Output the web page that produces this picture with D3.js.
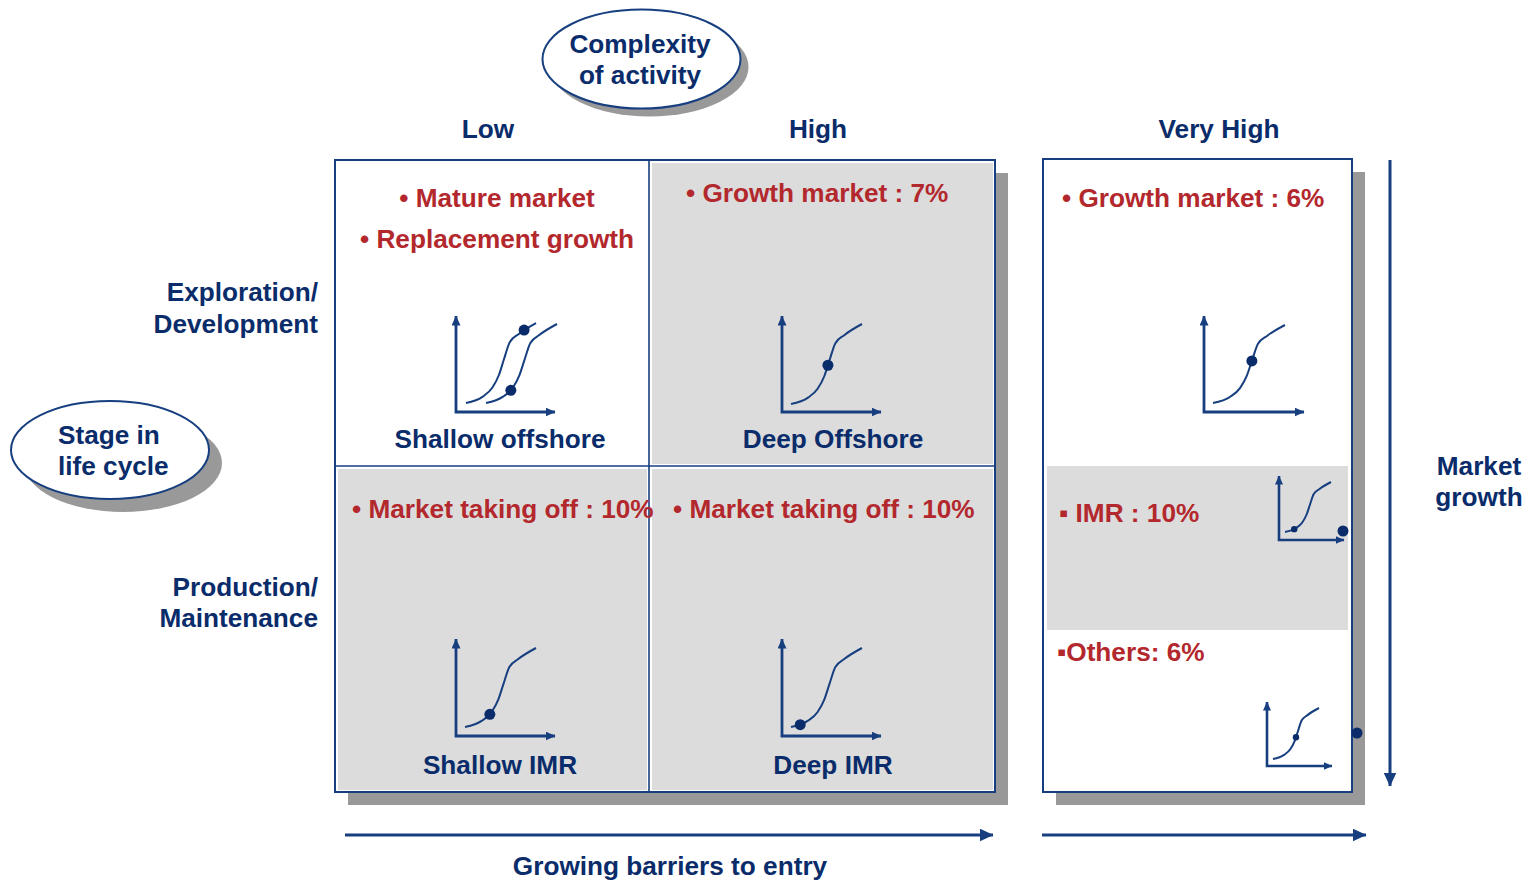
<!DOCTYPE html>
<html>
<head>
<meta charset="utf-8">
<script src="https://cdn.jsdelivr.net/npm/d3@7"></script>
<style>
  html, body { margin: 0; padding: 0; background: #ffffff; }
  svg { display: block; }
  text { font-family: "Liberation Sans", Arial, sans-serif; font-weight: bold; }
</style>
</head>
<body>
<svg id="chart" width="1539" height="880"></svg>
<script>
// ---- content ----
const complexityLevels = ["Low", "High", "Very High"];
const stageLabels = [["Exploration/", "Development"], ["Production/", "Maintenance"]];
const segmentNames = ["Shallow offshore", "Deep Offshore", "Shallow IMR", "Deep IMR"];
const segmentNotes = [
  ["• Mature market", "• Replacement growth"],
  ["• Growth market : 7%"],
  ["• Market taking off : 10%"],
  ["• Market taking off : 10%"]
];
const veryHighNotes = ["• Growth market : 6%", "▪ IMR : 10%", "▪Others: 6%"];
// position of each segment on its life-cycle curve (0 = start, 1 = end)
const lifeCyclePosition = [[0.83, 0.35], [0.52], [0.35], [0.13]];
const veryHighPosition = [0.54, 0.2, 0.5];
// generic S-shaped life cycle curve (normalised)
const sCurveX = [0, 0.24, 0.375, 0.47, 0.54, 0.625, 0.75, 1];
const sCurveY = [0, 0.08, 0.19, 0.35, 0.54, 0.76, 0.86, 1];

// ---- style ----
const NAVY = "#0a2c6a";
const LINE = "#173f80";
const RED = "#b3282d";
const GREY = "#dcdcdc";
const SHADOW = "#999999";
const FS = 26.2;

const svg = d3.select("#chart");
const defs = svg.append("defs");
function marker(id, len, wid) {
  defs.append("marker").attr("id", id)
    .attr("viewBox", `0 0 ${len} ${wid}`).attr("refX", len - 0.5).attr("refY", wid / 2)
    .attr("markerWidth", len).attr("markerHeight", wid).attr("markerUnits", "userSpaceOnUse")
    .attr("orient", "auto-start-reverse")
    .append("path").attr("d", `M0,0 L${len},${wid / 2} L0,${wid} Z`).attr("fill", LINE);
}
marker("bigArrow", 14, 13);
marker("miniArrow", 10, 9);
marker("tinyArrow", 9, 8);

function label(x, y, lines, opts = {}) {
  const t = svg.append("text")
    .attr("x", x).attr("y", y)
    .attr("fill", opts.fill || NAVY)
    .attr("font-size", opts.size || FS)
    .attr("text-anchor", opts.anchor || "middle");
  lines.forEach((s, i) => {
    t.append("tspan").attr("x", x).attr("y", y + i * (opts.lh || 31)).attr("dy", "0.35em").text(s);
  });
  return t;
}

// ---- ellipses ----
function bubble(cx, cy, rx, ry, off, lines, anchor, tx) {
  svg.append("ellipse").attr("cx", cx + off).attr("cy", cy + off).attr("rx", rx).attr("ry", ry).attr("fill", SHADOW);
  svg.append("ellipse").attr("cx", cx).attr("cy", cy).attr("rx", rx).attr("ry", ry)
    .attr("fill", "#fff").attr("stroke", LINE).attr("stroke-width", 2);
  label(tx, cy - 15, lines, { anchor, lh: 31 });
}
bubble(641.5, 59, 99, 49.5, 8, ["Complexity", "of activity"], "middle", 640);
bubble(110, 450, 99, 49, 13, ["Stage in", "life cycle"], "start", 58);

// ---- matrix layout ----
const L = { x0: 335, xm: 649, x1: 995, y0: 160, ym: 466, y1: 792 };
const R = { x0: 1043, x1: 1352, y0: 159, y1: 792, gy0: 466, gy1: 630 };
const SH = 13;

// shadows
svg.append("rect").attr("x", L.x0 + SH).attr("y", L.y0 + SH).attr("width", L.x1 - L.x0).attr("height", L.y1 - L.y0).attr("fill", SHADOW);
svg.append("rect").attr("x", R.x0 + SH).attr("y", R.y0 + SH).attr("width", R.x1 - R.x0).attr("height", R.y1 - R.y0).attr("fill", SHADOW);

// cells
const cells = [
  { x: L.x0, y: L.y0, w: L.xm - L.x0, h: L.ym - L.y0, grey: false },
  { x: L.xm, y: L.y0, w: L.x1 - L.xm, h: L.ym - L.y0, grey: true },
  { x: L.x0, y: L.ym, w: L.xm - L.x0, h: L.y1 - L.ym, grey: true },
  { x: L.xm, y: L.ym, w: L.x1 - L.xm, h: L.y1 - L.ym, grey: true }
];
svg.append("rect").attr("x", L.x0).attr("y", L.y0).attr("width", L.x1 - L.x0).attr("height", L.y1 - L.y0).attr("fill", "#fff");
cells.forEach(c => {
  if (c.grey) svg.append("rect").attr("x", c.x + 3).attr("y", c.y + 3).attr("width", c.w - 5).attr("height", c.h - 5).attr("fill", GREY);
});
svg.append("rect").attr("x", L.x0).attr("y", L.y0).attr("width", L.x1 - L.x0).attr("height", L.y1 - L.y0)
  .attr("fill", "none").attr("stroke", LINE).attr("stroke-width", 2);
svg.append("line").attr("x1", L.xm).attr("x2", L.xm).attr("y1", L.y0).attr("y2", L.y1).attr("stroke", LINE).attr("stroke-width", 1.6);
svg.append("line").attr("x1", L.x0).attr("x2", L.x1).attr("y1", L.ym).attr("y2", L.ym).attr("stroke", LINE).attr("stroke-width", 1.6);

svg.append("rect").attr("x", R.x0).attr("y", R.y0).attr("width", R.x1 - R.x0).attr("height", R.y1 - R.y0).attr("fill", "#fff");
svg.append("rect").attr("x", R.x0 + 4).attr("y", R.gy0).attr("width", R.x1 - R.x0 - 8).attr("height", R.gy1 - R.gy0).attr("fill", GREY);
svg.append("rect").attr("x", R.x0).attr("y", R.y0).attr("width", R.x1 - R.x0).attr("height", R.y1 - R.y0)
  .attr("fill", "none").attr("stroke", LINE).attr("stroke-width", 2);

// ---- headers ----
const headerX = [488, 818, 1219];
complexityLevels.forEach((s, i) => label(headerX[i], 129, [s]));
label(318, 292, stageLabels[0], { anchor: "end", lh: 32 });
label(318, 587, stageLabels[1], { anchor: "end", lh: 31 });
label(1479, 466, ["Market", "growth"], { lh: 31 });
label(670, 866, ["Growing barriers to entry"]);

// ---- notes ----
label(497, 198, [segmentNotes[0][0]], { fill: RED });
label(497, 239, [segmentNotes[0][1]], { fill: RED });
label(686, 193, segmentNotes[1], { fill: RED, anchor: "start" });
label(352, 509, segmentNotes[2], { fill: RED, anchor: "start" });
label(673, 509, segmentNotes[3], { fill: RED, anchor: "start" });
label(1062, 198, [veryHighNotes[0]], { fill: RED, anchor: "start" });
label(1059, 513, [veryHighNotes[1]], { fill: RED, anchor: "start" });
label(1057, 652, [veryHighNotes[2]], { fill: RED, anchor: "start" });

// ---- segment names ----
const nameX = [500, 833, 500, 833];
const nameY = [439, 439, 765, 765];
segmentNames.forEach((s, i) => label(nameX[i], nameY[i], [s]));

// ---- life cycle mini charts ----
const curvePts = sCurveX.map((x, i) => [x, sCurveY[i]]);
function miniChart(o) {
  const g = svg.append("g");
  g.append("path")
    .attr("d", `M${o.ox},${o.oy - o.h} L${o.ox},${o.oy} L${o.ox + o.w},${o.oy}`)
    .attr("fill", "none").attr("stroke", LINE).attr("stroke-width", o.small ? 2.6 : 2.8)
    .attr("marker-start", o.small ? "url(#tinyArrow)" : "url(#miniArrow)")
    .attr("marker-end", o.small ? "url(#tinyArrow)" : "url(#miniArrow)");
  o.curves.forEach(c => {
    const xs = d3.scaleLinear().domain([0, 1]).range([c.x0, c.x1]);
    const ys = d3.scaleLinear().domain([0, 1]).range([c.y0, c.y1]);
    const line = d3.line().x(d => xs(d[0])).y(d => ys(d[1])).curve(d3.curveMonotoneX);
    const p = g.append("path").attr("d", line(curvePts))
      .attr("fill", "none").attr("stroke", LINE).attr("stroke-width", 2);
    // locate the dot on the drawn curve at the requested horizontal position
    const node = p.node();
    const total = node.getTotalLength();
    const tx = xs(c.pos);
    let lo = 0, hi = total;
    for (let k = 0; k < 30; k++) {
      const mid = (lo + hi) / 2;
      if (node.getPointAtLength(mid).x < tx) lo = mid; else hi = mid;
    }
    const pt = node.getPointAtLength((lo + hi) / 2);
    g.append("circle").attr("cx", pt.x).attr("cy", pt.y).attr("r", c.r).attr("fill", NAVY);
  });
}
miniChart({ ox: 456, oy: 412, h: 96, w: 99, curves: [
  { x0: 466, x1: 536, y0: 403, y1: 323, pos: lifeCyclePosition[0][0], r: 5.5 },
  { x0: 486, x1: 557, y0: 403, y1: 324, pos: lifeCyclePosition[0][1], r: 5.5 }] });
miniChart({ ox: 782, oy: 412, h: 96, w: 99, curves: [
  { x0: 791, x1: 862, y0: 404, y1: 324, pos: lifeCyclePosition[1][0], r: 5.5 }] });
miniChart({ ox: 456, oy: 736, h: 97, w: 99, curves: [
  { x0: 465, x1: 536, y0: 727, y1: 648, pos: lifeCyclePosition[2][0], r: 5.5 }] });
miniChart({ ox: 782, oy: 736, h: 97, w: 99, curves: [
  { x0: 791, x1: 862, y0: 727, y1: 648, pos: lifeCyclePosition[3][0], r: 5.5 }] });
miniChart({ ox: 1204, oy: 412, h: 96, w: 100, curves: [
  { x0: 1213, x1: 1285, y0: 403, y1: 325, pos: veryHighPosition[0], r: 5.5 }] });
miniChart({ ox: 1279, oy: 540, h: 64, w: 65, small: true, curves: [
  { x0: 1285, x1: 1331, y0: 532, y1: 482, pos: veryHighPosition[1], r: 3.2 }] });
miniChart({ ox: 1267, oy: 766, h: 64, w: 65, small: true, curves: [
  { x0: 1273, x1: 1319, y0: 759, y1: 708, pos: veryHighPosition[2], r: 3.2 }] });
svg.append("circle").attr("cx", 1343).attr("cy", 531).attr("r", 5.5).attr("fill", NAVY);
svg.append("circle").attr("cx", 1357).attr("cy", 733).attr("r", 5.5).attr("fill", NAVY);

// ---- axis arrows ----
function arrow(x1, y1, x2, y2) {
  svg.append("line").attr("x1", x1).attr("y1", y1).attr("x2", x2).attr("y2", y2)
    .attr("stroke", LINE).attr("stroke-width", 3).attr("marker-end", "url(#bigArrow)");
}
arrow(345, 835, 993, 835);
arrow(1042, 835, 1366, 835);
arrow(1390, 160, 1390, 786);
</script>
</body>
</html>
